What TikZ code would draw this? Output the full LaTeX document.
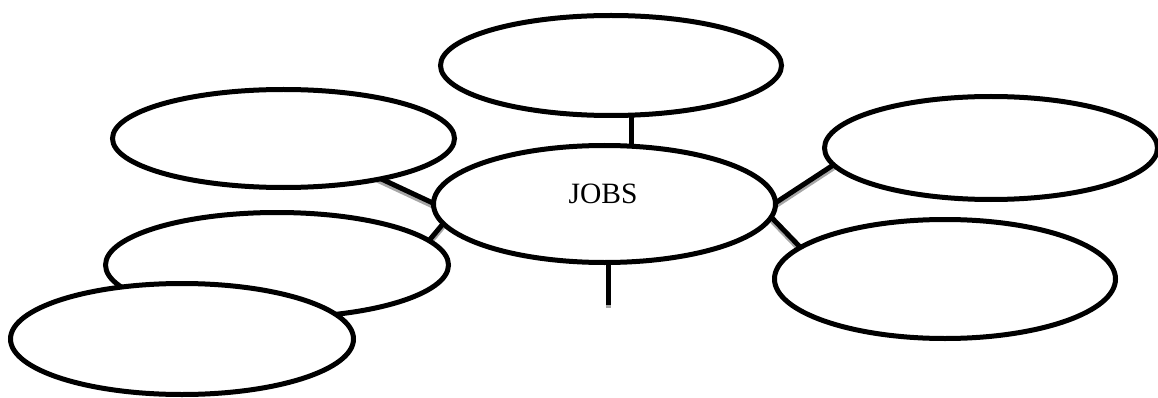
\documentclass[tikz,border=0pt]{standalone}
\usepackage{fontspec}
\setmainfont{Liberation Serif}
\usetikzlibrary{shapes.geometric}
\begin{document}
\begin{tikzpicture}[x=1pt,y=-1pt,
  bubble/.style={ellipse,draw=black,fill=white,line width=5pt,inner sep=0pt},
  link/.style={draw=black,line width=5pt},
  linkshade/.style={draw=black!35,line width=5pt}]
\useasboundingbox (0,0) rectangle (1158,398);

% bubble centres
\coordinate (pc) at (604.5,204);
\coordinate (pt) at (611,65.5);
\coordinate (plu) at (283.5,138.5);
\coordinate (pru) at (991,148);
\coordinate (prl) at (945,279);
\coordinate (plm) at (277,265);
\coordinate (pll) at (182,339);

% link ends, tucked inside the bubbles so the fills trim them
\coordinate (t1) at ([shift={(20,34.5)}]pt);
\coordinate (t2) at ([shift={(26.5,-34)}]pc);
\coordinate (a1) at ([shift={(46.5,16.5)}]plu);
\coordinate (a2) at ([shift={(-124.5,21)}]pc);
\coordinate (b1) at ([shift={(-142.5,-3)}]pc);
\coordinate (b2) at ([shift={(135,-4)}]plm);
\coordinate (r1) at ([shift={(135.5,22)}]pc);
\coordinate (r2) at ([shift={(-121,-7)}]pru);
\coordinate (s1) at ([shift={(140.5,-14)}]pc);
\coordinate (s2) at ([shift={(-115,-1)}]prl);
\coordinate (d1) at ([shift={(3.5,26)}]pc);
\coordinate (tail) at ([shift={(3.5,101)}]pc);

% links, each with a soft grey shade just below it
\foreach \a/\b in {t1/t2,a1/a2,b1/b2,r1/r2,s1/s2,d1/tail}{
  \draw[linkshade] ([yshift=-3pt]\a) -- ([yshift=-3pt]\b);
  \draw[link] (\a) -- (\b);
}

% the bubbles
\node[bubble,minimum width=341pt,minimum height=100pt] (top) at (pt) {};
\node[bubble,minimum width=342pt,minimum height=98pt] (lu) at (plu) {};
\node[bubble,minimum width=333pt,minimum height=103pt] (ru) at (pru) {};
\node[bubble,minimum width=341pt,minimum height=119pt] (rl) at (prl) {};
\node[bubble,minimum width=343pt,minimum height=105pt] (lm) at (plm) {};
\node[bubble,minimum width=343pt,minimum height=111pt] (ll) at (pll) {};
\node[bubble,minimum width=342pt,minimum height=117pt] (c) at (pc) {};
\node[font=\fontsize{29.5}{32}\selectfont,anchor=base,inner sep=0pt] (jobs) at ([shift={(-1.5,-1)}]c) {JOBS};
\end{tikzpicture}
\end{document}
